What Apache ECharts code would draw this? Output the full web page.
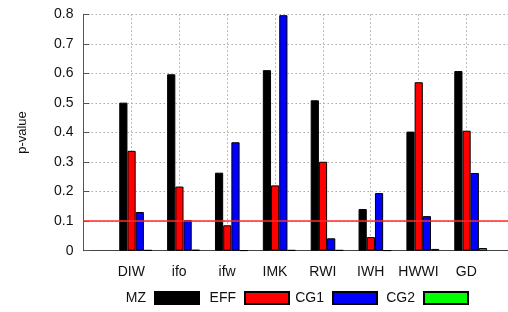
<!DOCTYPE html>
<html>
<head>
<meta charset="utf-8">
<script src="https://cdn.jsdelivr.net/npm/echarts@6/dist/echarts.min.js"></script>
<style>
  html, body { margin: 0; padding: 0; background: #fff; }
  #chart { width: 508px; height: 312px; }
</style>
</head>
<body>
<div id="chart"></div>
<script>
// institutes on the x axis
const institutes = ['DIW', 'ifo', 'ifw', 'IMK', 'RWI', 'IWH', 'HWWI', 'GD'];
// p-values per test, one array per series
const mzValues  = [0.501, 0.597, 0.264, 0.611, 0.509, 0.141, 0.403, 0.608];
const effValues = [0.338, 0.217, 0.086, 0.221, 0.301, 0.046, 0.570, 0.406];
const cg1Values = [0.131, 0.104, 0.367, 0.797, 0.042, 0.195, 0.117, 0.263];
const cg2Values = [0.002, 0.003, 0.001, 0.002, 0.002, 0.001, 0.006, 0.009];
const seriesNames = ['MZ', 'EFF', 'CG1', 'CG2'];
const seriesColors = ['#000000', '#ff0000', '#0000ff', '#00ff00'];
const yTicks = [0, 0.1, 0.2, 0.3, 0.4, 0.5, 0.6, 0.7, 0.8];
const threshold = 0.1;

const font = 'Liberation Sans, Arial, sans-serif';
const chart = echarts.init(document.getElementById('chart'), null, { renderer: 'canvas' });

const allValues = [mzValues, effValues, cg1Values, cg2Values];
const barSeries = allValues.map((vals, k) => ({
  name: seriesNames[k],
  type: 'bar',
  xAxisIndex: 1,
  data: vals.map((v, i) => [i, v]),
  barWidth: 8.2,
  barGap: '0%',
  z: 3,
  itemStyle: { color: seriesColors[k], borderColor: '#000', borderWidth: 1 },
  emphasis: { disabled: true },
}));

// gnuplot-style key: title right-justified, then the sample box; one legend per entry
const keyRight = [308, 218, 130, 39];
const legends = seriesNames.map((name, k) => ({
  data: [name],
  right: keyRight[k],
  top: 291,
  align: 'right',
  icon: 'rect',
  itemWidth: 44,
  itemHeight: 12,
  selectedMode: false,
  padding: 0,
  textStyle: { fontFamily: font, fontSize: 14, color: '#111', padding: [0, 4, 0, 0] },
}));

chart.setOption({
  animation: false,
  backgroundColor: '#fff',
  grid: { left: 83.5, right: 0, top: 14.3, bottom: 61.3 },
  xAxis: [{
    type: 'value',
    min: -1,
    max: 7.87,
    interval: 1,
    axisLine: { show: true, onZero: false, lineStyle: { color: '#444', width: 1 } },
    axisTick: { show: false },
    axisLabel: {
      margin: 14,
      fontFamily: font,
      fontSize: 14,
      color: '#111',
      showMaxLabel: false,
      formatter: (v) => (Number.isInteger(v) && v >= 0 && v < institutes.length ? institutes[v] : ''),
    },
    splitLine: { show: true, lineStyle: { color: '#aaa', type: [1.5, 2.5], width: 1 } },
  }, {
    // same scale shifted slightly so the clusters sit right of the tick, like the original
    type: 'value',
    min: -1.09,
    max: 7.78,
    show: false,
  }],
  yAxis: {
    type: 'value',
    min: 0,
    max: 0.8,
    interval: 0.1,
    name: 'p-value',
    nameLocation: 'middle',
    nameRotate: 90,
    nameGap: 55,
    nameTextStyle: { fontFamily: font, fontSize: 13, color: '#111' },
    axisLine: { show: true, onZero: false, lineStyle: { color: '#555', width: 1 } },
    axisTick: { show: true, inside: true, length: 6, lineStyle: { color: '#555' } },
    axisLabel: {
      margin: 10,
      fontFamily: font,
      fontSize: 14,
      color: '#111',
      formatter: (v) => {
        const t = yTicks.find((x) => Math.abs(x - v) < 1e-6);
        return t === 0 ? '0' : String(t);
      },
    },
    splitLine: { show: true, lineStyle: { color: '#aaa', type: [1.5, 2.5], width: 1 } },
  },
  legend: legends,
  series: [
    {
      name: 'threshold',
      type: 'line',
      xAxisIndex: 0,
      data: [],
      z: 1,
      silent: true,
      markLine: {
        silent: true,
        symbol: 'none',
        label: { show: false },
        lineStyle: { color: '#ff2a2a', width: 1.6, type: 'solid' },
        data: [{ yAxis: threshold }],
      },
    },
    ...barSeries,
  ],
});
</script>
</body>
</html>
